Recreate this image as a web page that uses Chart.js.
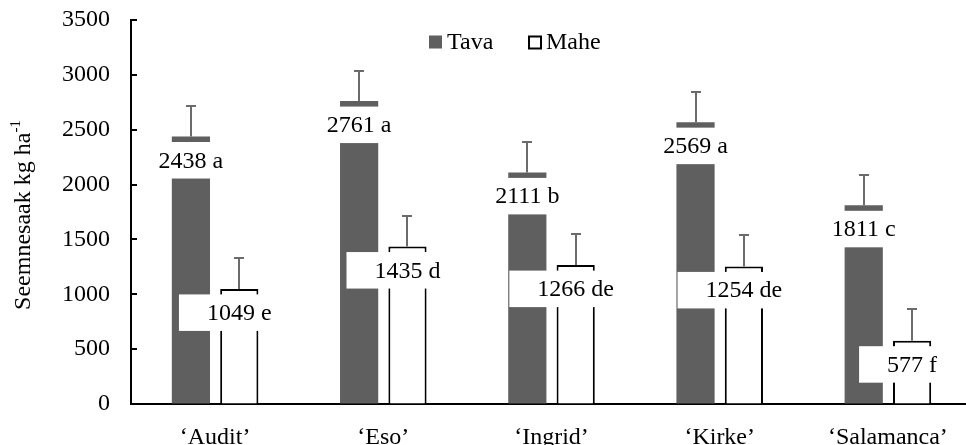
<!DOCTYPE html>
<html><head><meta charset="utf-8">
<script src="https://cdn.jsdelivr.net/npm/chart.js@4/dist/chart.umd.min.js"></script>
<style>html,body{margin:0;padding:0;background:#fff;overflow:hidden}#wrap{width:972px;height:445px;position:relative}</style>
</head><body><div id="wrap"><canvas id="c"></canvas></div>
<script>
const categories = ["‘Audit’","‘Eso’","‘Ingrid’","‘Kirke’","‘Salamanca’"];
const seriesNames = ["Tava","Mahe"];
const tavaValues = [2438,2761,2111,2569,1811];
const maheValues = [1049,1435,1266,1254,577];
const tavaLetters = ["a","a","b","a","c"];
const maheLetters = ["e","d","de","de","f"];
const tavaErrors = [278,277,280,278,276];
const maheErrors = [282,279,281,286,289];
const yTicks = [0,500,1000,1500,2000,2500,3000,3500];
const yTitle = "Seemnesaak kg ha";
const yTitleSup = "-1";

const FONT = '"Liberation Serif","Times New Roman",serif';
const FS = 24;
const TAVA_COLOR = '#5f5f5f';
const ERR_COLOR = '#6b6b6b';

const overlay = {
  id: 'overlay',
  afterDatasetsDraw(chart) {
    const ctx = chart.ctx, ys = chart.scales.y, ca = chart.chartArea;
    ctx.save();
    ctx.beginPath();
    ctx.rect(ca.left + 1, 0, chart.width - ca.left, chart.height);
    ctx.clip();
    ctx.font = FS + 'px ' + FONT;
    ctx.textAlign = 'center'; ctx.textBaseline = 'middle';
    [[0, tavaValues, tavaLetters], [1, maheValues, maheLetters]].forEach(([di, vals, lets]) => {
      chart.getDatasetMeta(di).data.forEach((bar, i) => {
        const txt = vals[i] + ' ' + lets[i];
        const w = ctx.measureText(txt).width + 56;
        const top = bar.y + 5.5, h = 36.5;
        ctx.fillStyle = '#fff';
        ctx.fillRect(bar.x - w / 2, top, w, h);
        ctx.fillStyle = '#000';
        ctx.fillText(txt, bar.x, top + h / 2 + 1);
      });
    });
    ctx.strokeStyle = ERR_COLOR; ctx.lineWidth = 2;
    [[0, tavaValues, tavaErrors], [1, maheValues, maheErrors]].forEach(([di, vals, errs]) => {
      chart.getDatasetMeta(di).data.forEach((bar, i) => {
        const yt = Math.round(ys.getPixelForValue(vals[i] + errs[i]));
        const x = Math.round(bar.x);
        ctx.beginPath();
        ctx.moveTo(x, bar.y); ctx.lineTo(x, yt);
        ctx.moveTo(x - 5, yt); ctx.lineTo(x + 5, yt);
        ctx.stroke();
      });
    });
    ctx.restore();
  },
  afterDraw(chart) {
    const ctx = chart.ctx, ca = chart.chartArea, ys = chart.scales.y;
    ctx.save();
    ctx.strokeStyle = '#000'; ctx.lineWidth = 2;
    yTicks.forEach(v => {
      const y = Math.round(ys.getPixelForValue(v));
      ctx.beginPath(); ctx.moveTo(ca.left, y); ctx.lineTo(ca.left + 6, y); ctx.stroke();
    });
    ctx.translate(24, (ca.top + ca.bottom) / 2 + 3);
    ctx.rotate(-Math.PI / 2);
    ctx.textBaseline = 'middle'; ctx.textAlign = 'left';
    ctx.font = FS + 'px ' + FONT;
    const w1 = ctx.measureText(yTitle).width;
    ctx.font = '15px ' + FONT;
    const w2 = ctx.measureText(yTitleSup).width;
    const x0 = -(w1 + w2) / 2;
    ctx.fillStyle = '#000';
    ctx.font = FS + 'px ' + FONT;
    ctx.fillText(yTitle, x0, 0);
    ctx.font = '15px ' + FONT;
    ctx.fillText(yTitleSup, x0 + w1, -8);
    ctx.restore();
    ctx.save();
    const lx = ca.left + 298, ly = 42;
    ctx.fillStyle = TAVA_COLOR;
    ctx.fillRect(lx, ly - 6.5, 13, 13);
    ctx.font = FS + 'px ' + FONT; ctx.textBaseline = 'middle'; ctx.textAlign = 'left';
    ctx.fillStyle = '#000';
    ctx.fillText(seriesNames[0], lx + 18, ly + 1);
    ctx.strokeStyle = '#000'; ctx.lineWidth = 2;
    ctx.strokeRect(lx + 100, ly - 5.5, 12, 12);
    ctx.fillText(seriesNames[1], lx + 117, ly + 1);
    ctx.restore();
  }
};

new Chart(document.getElementById('c'), {
  type: 'bar',
  data: {
    labels: categories,
    datasets: [
      { label: seriesNames[0], data: tavaValues, backgroundColor: TAVA_COLOR, borderWidth: 0,
        categoryPercentage: 0.575, barPercentage: 0.79 },
      { label: seriesNames[1], data: maheValues, backgroundColor: '#fff', borderColor: '#000', borderWidth: 2,
        categoryPercentage: 0.575, barPercentage: 0.79 }
    ]
  },
  options: {
    responsive: true, maintainAspectRatio: false, animation: false,
    layout: { padding: { top: 20, left: 0, right: 0, bottom: 0 } },
    plugins: { legend: { display: false }, tooltip: { enabled: false } },
    scales: {
      x: {
        grid: { display: true, drawOnChartArea: false, drawTicks: false },
        border: { color: '#000', width: 2 },
        ticks: { color: '#000', font: { family: FONT, size: FS }, padding: 19, maxRotation: 0 },
        afterFit(s) { s.height = 41; s.paddingLeft = 0; s.paddingRight = 0; }
      },
      y: {
        min: 0, max: 3500,
        afterBuildTicks(s) { s.ticks = yTicks.map(v => ({ value: v })); },
        grid: { display: true, drawOnChartArea: false, drawTicks: false },
        border: { color: '#000', width: 2 },
        ticks: { color: '#000', font: { family: FONT, size: FS }, padding: 21,
                 callback: (v) => String(v) },
        afterFit(s) { s.width = 131; s.paddingTop = 0; s.paddingBottom = 0; }
      }
    }
  },
  plugins: [overlay]
});
</script></body></html>
